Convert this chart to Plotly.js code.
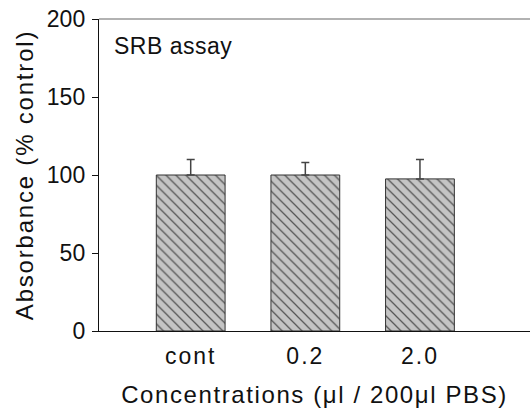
<!DOCTYPE html>
<html><head><meta charset="utf-8">
<script src="https://cdn.plot.ly/plotly-3.0.1.min.js"></script>
<style>
html,body{margin:0;padding:0;overflow:hidden;background:#fff}
.xtitle{letter-spacing:1.6px}
.ytitle{letter-spacing:1.8px}
.xtick text{letter-spacing:2px}
.annotation-text{letter-spacing:0.5px}
</style>
</head><body>
<div id="chart" style="width:530px;height:408px"></div>
<script>
const categories = ["cont", "0.2", "2.0"];
const values = [100, 100, 97.5];
const errorsUp = [10, 8, 12.5];
const yTicks = [0, 50, 100, 150, 200];
const xTitle = "Concentrations (μl / 200μl PBS)";
const yTitle = "Absorbance (% control)";
const panelLabel = "SRB assay";

const FONT = "Liberation Sans, Arial, sans-serif";
const trace = {
  type: "bar",
  x: [0, 1, 2],
  y: values,
  width: 0.6,
  marker: {
    color: "#c4c4c4",
    line: {color: "#333", width: 1},
    pattern: {shape: "\\", fgcolor: "#555", bgcolor: "#c4c4c4", size: 7, solidity: 0.18}
  },
  error_y: {type: "data", symmetric: false, array: errorsUp, arrayminus: [0,0,0],
    color: "#444", thickness: 1.5, width: 4},
  hoverinfo: "none"
};
const layout = {
  width: 530, height: 408,
  margin: {l: 99, r: 0, t: 19, b: 77},
  paper_bgcolor: "#fff", plot_bgcolor: "#fff",
  showlegend: false,
  font: {family: FONT, color: "#111"},
  xaxis: {
    range: [-0.8, 2.96],
    tickvals: [0, 1, 2], ticktext: categories,
    ticks: "", showgrid: false, zeroline: false,
    showline: true, linecolor: "#111", linewidth: 1.2,
    mirror: false, ticklabelstandoff: 4,
    tickfont: {size: 23, family: FONT, color: "#111"},
    title: {text: xTitle, font: {size: 24, family: FONT, color: "#111"}, standoff: 20}
  },
  yaxis: {
    range: [0, 200],
    tickvals: yTicks,
    ticks: "outside", ticklen: 6, tickcolor: "#111", tickwidth: 1,
    showgrid: false, zeroline: false,
    showline: true, linecolor: "#111", linewidth: 1.2,
    ticklabelstandoff: 2,
    tickfont: {size: 23, family: FONT, color: "#111"},
    title: {text: yTitle, font: {size: 24, family: FONT, color: "#111"}, standoff: 6}
  },
  shapes: [{type: "line", xref: "paper", yref: "paper", x0: 0, x1: 1.02, y0: 1, y1: 1,
    line: {color: "#666", width: 1.2}}],
  annotations: [{text: panelLabel, xref: "paper", yref: "paper", x: 0.03, y: 0.915,
    xanchor: "left", yanchor: "middle", showarrow: false,
    font: {size: 23, family: FONT, color: "#111"}}]
};
Plotly.newPlot("chart", [trace], layout, {staticPlot: true, displayModeBar: false});
</script>
</body></html>
